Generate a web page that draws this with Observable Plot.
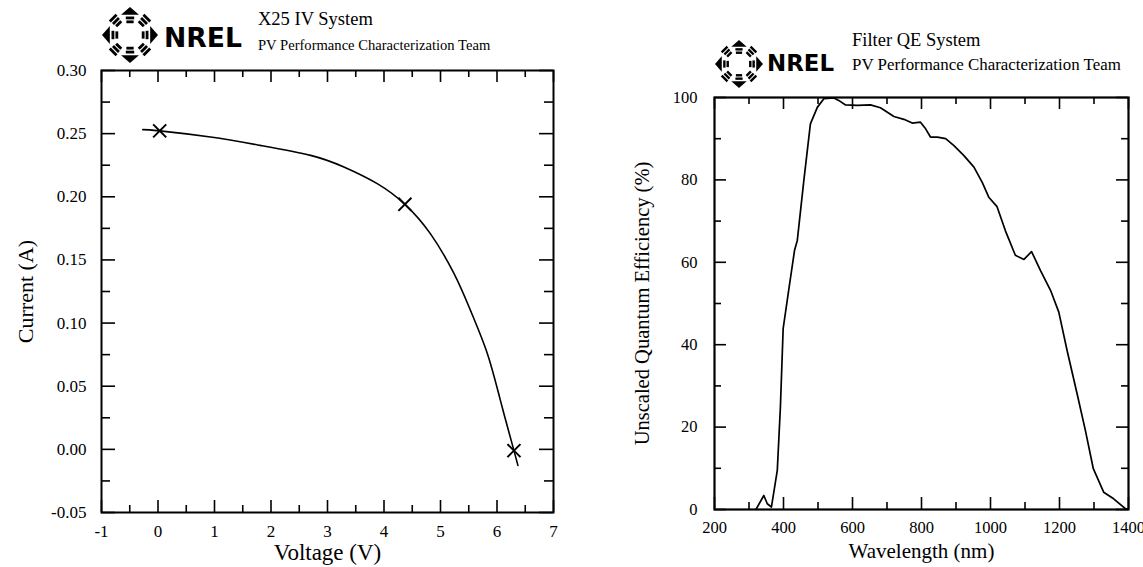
<!DOCTYPE html>
<html><head><meta charset="utf-8">
<script src="https://cdn.jsdelivr.net/npm/d3@7"></script>
<script src="https://cdn.jsdelivr.net/npm/@observablehq/plot@0.6"></script>
<style>
body{margin:0;background:#fff;width:1143px;height:567px;position:relative;overflow:hidden;font-family:"Liberation Serif",serif;}
#hdr{position:absolute;left:0;top:0;}
#left{position:absolute;left:0;top:60px;}
#right{position:absolute;left:620px;top:80px;}
svg text{font-family:"Liberation Serif",serif;}
</style></head><body>
<svg id="hdr" width="1143" height="100"></svg>
<div id="left"></div><div id="right"></div>
<script>
// ---------- IV chart data ----------
const ivVoltage = [-0.27, 0.03, 0.93, 1.81, 2.70, 3.29, 3.88, 4.37, 4.82, 5.24, 5.53, 5.83, 6.06, 6.30, 6.37];
const ivCurrent = [0.2532, 0.2522, 0.2473, 0.2407, 0.2328, 0.2236, 0.2104, 0.194, 0.1708, 0.1391, 0.1101, 0.0758, 0.0388, -0.001, -0.0127];
const ivMarkerVoltage = [0.03, 4.37, 6.30];
const ivMarkerCurrent = [0.2522, 0.194, -0.001];
const ivXTicks = [-1, 0, 1, 2, 3, 4, 5, 6, 7];
const ivXTickLabels = ["-1", "0", "1", "2", "3", "4", "5", "6", "7"];
const ivXMinor = [-0.5, 0.5, 1.5, 2.5, 3.5, 4.5, 5.5, 6.5];
const ivYTicks = [-0.05, 0, 0.05, 0.10, 0.15, 0.20, 0.25, 0.30];
const ivYTickLabels = ["-0.05", "0.00", "0.05", "0.10", "0.15", "0.20", "0.25", "0.30"];
const ivYMinor = [-0.025, 0.025, 0.075, 0.125, 0.175, 0.225, 0.275];

// ---------- QE chart data ----------
const qeWavelength = [320, 343, 353, 365, 382, 391, 399, 415, 432, 440, 459, 478, 498, 517, 546, 560, 580, 614, 652, 681, 720, 749, 773, 797, 812, 826, 846, 870, 894, 923, 952, 976, 995, 1019, 1043, 1072, 1097, 1119, 1145, 1174, 1198, 1222, 1251, 1275, 1298, 1328, 1357, 1391, 1400];
const qeEfficiency = [0, 3.4, 1.4, 0.6, 9.5, 24.8, 43.9, 53.2, 62.9, 65.3, 79.9, 93.6, 97.6, 99.7, 99.9, 99.3, 98.2, 98.1, 98.2, 97.5, 95.4, 94.7, 93.8, 94.0, 92.4, 90.4, 90.4, 90.0, 88.3, 85.9, 83.1, 79.4, 75.8, 73.5, 67.7, 61.7, 60.7, 62.6, 58.0, 53.2, 47.9, 38.6, 28.1, 19.2, 9.9, 4.2, 2.6, 0.2, 0];
const qeXTicks = [200, 400, 600, 800, 1000, 1200, 1400];
const qeXTickLabels = ["200", "400", "600", "800", "1000", "1200", "1400"];
const qeXMinor = [300, 500, 700, 900, 1100, 1300];
const qeYTicks = [0, 20, 40, 60, 80, 100];
const qeYTickLabels = ["0", "20", "40", "60", "80", "100"];
const qeYMinor = [10, 30, 50, 70, 90];

// ---------- header texts ----------
const leftTitle = "X25 IV System";
const rightTitle = "Filter QE System";
const teamText = "PV Performance Characterization Team";
const logoText = "NREL";

const font = "Liberation Serif";

function ticksAllSides(xMaj, xMin, yMaj, yMin, fw, fh, maj, mnr, majY, mnrY) {
  return [
    Plot.tickX(xMaj, {x: d => d, insetTop: fh - maj, strokeWidth: 1.6}),
    Plot.tickX(xMaj, {x: d => d, insetBottom: fh - maj, strokeWidth: 1.6}),
    Plot.tickX(xMin, {x: d => d, insetTop: fh - mnr, strokeWidth: 1.6}),
    Plot.tickX(xMin, {x: d => d, insetBottom: fh - mnr, strokeWidth: 1.6}),
    Plot.tickY(yMaj, {y: d => d, insetRight: fw - majY, strokeWidth: 1.6}),
    Plot.tickY(yMaj, {y: d => d, insetLeft: fw - majY, strokeWidth: 1.6}),
    Plot.tickY(yMin, {y: d => d, insetRight: fw - mnrY, strokeWidth: 1.6}),
    Plot.tickY(yMin, {y: d => d, insetLeft: fw - mnrY, strokeWidth: 1.6})
  ];
}

// ---------- left chart ----------
{
  const W = 570, H = 500, ml = 101, mr = 17, mt = 10, mb = 48;
  const fw = W - ml - mr, fh = H - mt - mb;
  const iv = ivVoltage.map((v, i) => ({v, c: ivCurrent[i]}));
  const mk = ivMarkerVoltage.map((v, i) => ({v, c: ivMarkerCurrent[i]}));
  const chart = Plot.plot({
    width: W, height: H, marginLeft: ml, marginRight: mr, marginTop: mt, marginBottom: mb,
    x: {domain: [-1, 7], axis: null},
    y: {domain: [-0.05, 0.30], axis: null},
    style: {fontFamily: font, fontSize: "16px", color: "black", background: "transparent", overflow: "visible"},
    marks: [
      ...ticksAllSides(ivXTicks, ivXMinor, ivYTicks, ivYMinor, fw, fh, 12, 7, 14, 9),
      Plot.frame({stroke: "black", strokeWidth: 2}),
      Plot.line(iv, {x: "v", y: "c", curve: "natural", stroke: "black", strokeWidth: 1.6}),
      Plot.dot(mk, {x: "v", y: "c", symbol: "times", r: 6, stroke: "black", strokeWidth: 2}),
      Plot.text(ivXTicks, {x: d => d, text: (d, i) => ivXTickLabels[i], frameAnchor: "bottom", lineAnchor: "middle", dy: 19, fontSize: 17, fontFamily: font, fill: "black"}),
      Plot.text(ivYTicks, {y: d => d, text: (d, i) => ivYTickLabels[i], frameAnchor: "left", textAnchor: "end", lineAnchor: "middle", dx: -15, fontSize: 17, fontFamily: font, fill: "black"}),
      Plot.text(["Voltage (V)"], {text: d => d, frameAnchor: "bottom", textAnchor: "middle", lineAnchor: "middle", dy: 40, fontSize: 23, fontFamily: font, fill: "black"}),
      Plot.text(["Current (A)"], {text: d => d, frameAnchor: "left", textAnchor: "middle", lineAnchor: "middle", dx: -76, rotate: -90, fontSize: 22, fontFamily: font, fill: "black"})
    ]
  });
  document.getElementById("left").append(chart);
}

// ---------- right chart ----------
{
  const W = 523, H = 487, ml = 94, mr = 15, mt = 17, mb = 58;
  const fw = W - ml - mr, fh = H - mt - mb;
  const qe = qeWavelength.map((w, i) => ({w, q: qeEfficiency[i]}));
  const chart = Plot.plot({
    width: W, height: H, marginLeft: ml, marginRight: mr, marginTop: mt, marginBottom: mb,
    x: {domain: [200, 1400], axis: null},
    y: {domain: [0, 100], axis: null},
    style: {fontFamily: font, fontSize: "16px", color: "black", background: "transparent", overflow: "visible"},
    marks: [
      ...ticksAllSides(qeXTicks, qeXMinor, qeYTicks, qeYMinor, fw, fh, 12, 7, 12, 7),
      Plot.frame({stroke: "black", strokeWidth: 2.2}),
      Plot.line(qe, {x: "w", y: "q", stroke: "black", strokeWidth: 1.7, clip: true}),
      Plot.text(qeXTicks, {x: d => d, text: (d, i) => qeXTickLabels[i], frameAnchor: "bottom", lineAnchor: "middle", dy: 18, fontSize: 16.5, fontFamily: font, fill: "black"}),
      Plot.text(qeYTicks, {y: d => d, text: (d, i) => qeYTickLabels[i], frameAnchor: "left", textAnchor: "end", lineAnchor: "middle", dx: -17, fontSize: 16.5, fontFamily: font, fill: "black"}),
      Plot.text(["Wavelength (nm)"], {text: d => d, frameAnchor: "bottom", textAnchor: "middle", lineAnchor: "middle", dy: 42, fontSize: 21, fontFamily: font, fill: "black"}),
      Plot.text(["Unscaled Quantum Efficiency (%)"], {text: d => d, frameAnchor: "left", textAnchor: "middle", lineAnchor: "middle", dx: -72, rotate: -90, fontSize: 20.5, fontFamily: font, fill: "black"})
    ]
  });
  document.getElementById("right").append(chart);
}

// ---------- headers with logos ----------
const hdr = d3.select("#hdr");
function drawLogo(cx, cy, R) {
  const g = hdr.append("g").attr("transform", `translate(${cx},${cy})`).attr("fill", "black");
  for (let k = 0; k < 8; k++) {
    const gg = g.append("g").attr("transform", `rotate(${k * 45})`);
    if (k % 2 === 0) {
      gg.append("path").attr("d", `M0,${-R} L${-0.32 * R},${-0.72 * R} L${0.32 * R},${-0.72 * R}Z`);
      for (const [rr, w] of [[0.66, 0.3], [0.52, 0.26]]) gg.append("rect").attr("x", -w * R / 2).attr("y", -rr * R).attr("width", w * R).attr("height", 0.1 * R);
    } else {
      for (const [rr, w] of [[0.9, 0.34], [0.76, 0.3], [0.62, 0.26]]) gg.append("rect").attr("x", -w * R / 2).attr("y", -rr * R).attr("width", w * R).attr("height", 0.1 * R);
    }
  }
}
function header(lx, ly, R, nx, ny, nw, nsize, tx, ty, tsize, sy, ssize, title) {
  drawLogo(lx, ly, R);
  hdr.append("text").attr("x", nx).attr("y", ny).style("font-family", "DejaVu Sans").attr("font-weight", "bold")
    .attr("font-size", nsize).attr("textLength", nw).attr("lengthAdjust", "spacingAndGlyphs").text(logoText);
  hdr.append("text").attr("x", tx).attr("y", ty).attr("font-size", tsize).text(title);
  hdr.append("text").attr("x", tx).attr("y", sy).attr("font-size", ssize).text(teamText);
}
header(130, 35, 28, 164, 47, 78, 26, 258, 25, 18.5, 50, 14.6, leftTitle);
header(739, 64, 24, 767, 71, 67, 23, 852, 46, 18.5, 70, 16.9, rightTitle);
</script>
</body></html>
